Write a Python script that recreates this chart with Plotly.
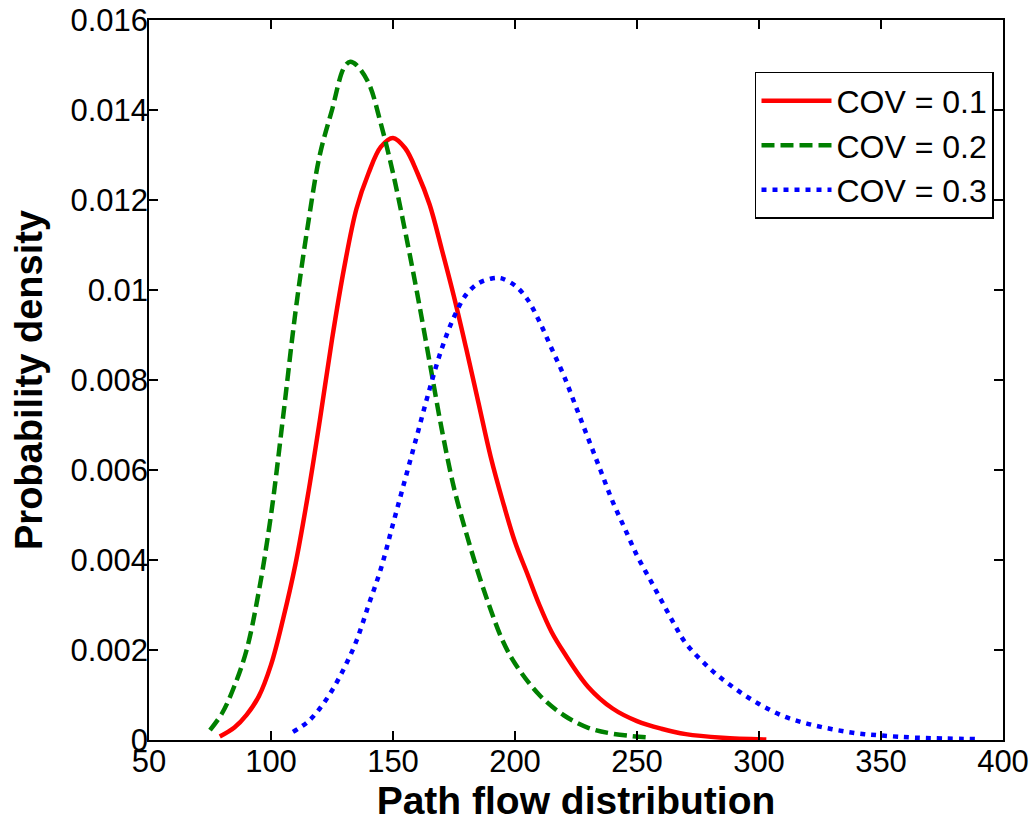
import plotly.graph_objects as go

# ---- data ----
red_x = [79, 85, 90, 95, 100, 105, 110, 115, 120, 125, 130, 135, 140, 145, 150, 155, 160, 165,
         170, 175, 180, 185, 190, 195, 200, 205, 210, 215, 220, 230, 240, 250, 260, 270, 285, 303]
red_y = [0.00008, 0.00028, 0.00056, 0.00097, 0.00167, 0.0027, 0.0039, 0.0054, 0.0071, 0.0089,
         0.0105, 0.0118, 0.0126, 0.01318, 0.01338, 0.01315, 0.0126, 0.0119, 0.0109, 0.00985,
         0.0087, 0.0075, 0.0063, 0.0053, 0.0044, 0.0037, 0.0030, 0.0024, 0.00195, 0.00118,
         0.0007, 0.00042, 0.00025, 0.00013, 0.00005, 0.00001]

green_x = [75, 80, 85, 90, 95, 100, 105, 110, 115, 120, 125, 130, 132.5, 135, 140, 145, 150, 155,
           160, 165, 170, 175, 180, 185, 190, 195, 200, 210, 220, 230, 240, 256]
green_y = [0.00022, 0.0006, 0.0012, 0.0020, 0.0033, 0.0050, 0.0072, 0.0095, 0.0114, 0.0130,
           0.0140, 0.01495, 0.01507, 0.0150, 0.0146, 0.0137, 0.0126, 0.0113, 0.0099, 0.0084,
           0.0069, 0.0056, 0.0046, 0.0037, 0.0029, 0.0022, 0.0017, 0.0010, 0.00055, 0.00027,
           0.00014, 0.00005]

blue_x = [109, 115, 120, 125, 130, 135, 140, 145, 150, 155, 160, 165, 170, 175, 180, 185, 190,
          193, 195, 200, 205, 210, 215, 220, 225, 230, 235, 240, 245, 250, 255, 260, 265, 270,
          280, 290, 300, 310, 320, 330, 340, 350, 365, 390]
blue_y = [0.00018, 0.0004, 0.0007, 0.0011, 0.0016, 0.0022, 0.0030, 0.0038, 0.0048, 0.0058,
          0.0068, 0.0078, 0.0087, 0.0094, 0.0099, 0.01015, 0.01025, 0.01027, 0.01025, 0.0101,
          0.0098, 0.0093, 0.0087, 0.0081, 0.0074, 0.0067, 0.0060, 0.0053, 0.0047, 0.0041,
          0.0036, 0.0031, 0.0026, 0.00215, 0.00158, 0.00115, 0.0008, 0.00053, 0.00036, 0.00024,
          0.00015, 0.0001, 0.00005, 0.00002]

series_names = ["COV = 0.1", "COV = 0.2", "COV = 0.3"]

x_ticks = [50, 100, 150, 200, 250, 300, 350, 400]
y_ticks = [0, 0.002, 0.004, 0.006, 0.008, 0.01, 0.012, 0.014, 0.016]
y_tick_text = ["0", "0.002", "0.004", "0.006", "0.008", "0.01", "0.012", "0.014", "0.016"]

FONT = "Liberation Sans, Arial, Helvetica, sans-serif"

fig = go.Figure()
fig.add_trace(go.Scatter(x=red_x, y=red_y, name=series_names[0], mode="lines",
                         line=dict(color="#ff0000", width=4.5, shape="spline")))
fig.add_trace(go.Scatter(x=green_x, y=green_y, name=series_names[1], mode="lines",
                         line=dict(color="#008000", width=4.5, shape="spline", dash="13px,6px")))
fig.add_trace(go.Scatter(x=blue_x, y=blue_y, name=series_names[2], mode="lines",
                         line=dict(color="#0000ff", width=4.5, shape="spline", dash="5px,6px")))

axis_common = dict(showline=True, linecolor="black", linewidth=1.5, mirror="ticks",
                   ticks="inside", ticklen=9, tickcolor="black", tickwidth=1.5,
                   showgrid=False, zeroline=False, automargin=False,
                   ticklabeloverflow="allow",
                   tickfont=dict(family=FONT, size=31, color="black"))

fig.update_xaxes(range=[50, 400], tickvals=x_ticks, ticklabelstandoff=-7,
                 title=dict(text="<b>Path flow distribution</b>", standoff=0,
                            font=dict(family=FONT, size=39, color="black")),
                 **axis_common)
fig.update_yaxes(range=[0, 0.016], tickvals=y_ticks, ticktext=y_tick_text, ticklabelstandoff=-7,
                 title=dict(text="<b>Probability density</b>", standoff=16,
                            font=dict(family=FONT, size=38, color="black")),
                 **axis_common)

fig.update_layout(
    width=1035, height=823,
    margin=dict(l=149, r=32, t=20, b=83),
    paper_bgcolor="white", plot_bgcolor="white",
    showlegend=True,
    legend=dict(x=0.7096, y=0.928, xanchor="left", yanchor="top",
                bgcolor="white", bordercolor="black", borderwidth=1.5,
                font=dict(family=FONT, size=32, color="black"),
                itemwidth=70, tracegroupgap=0),
)

# remove the page body's default 8px margin so the figure fills the window exactly
fig.write_html("out.html",
               config={"displayModeBar": False},
               post_script="document.body.style.margin='0';document.body.style.overflow='hidden';")
